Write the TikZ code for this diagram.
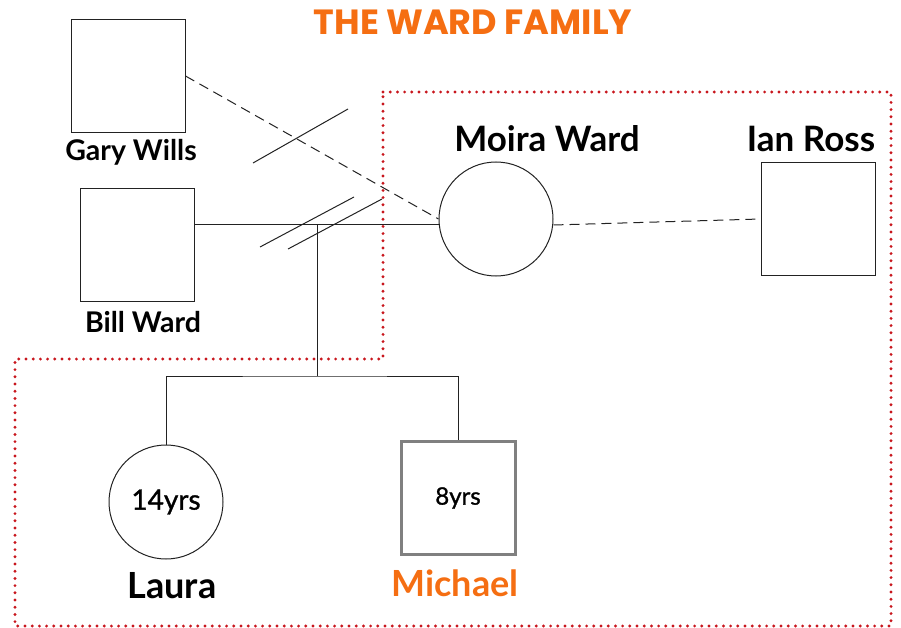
\documentclass[tikz,border=0pt]{standalone}
\usepackage{xcolor}
\usepackage{fontspec}
\setmainfont{Lato}
\newfontfamily\titlefont{Poppins}
\newfontfamily\agefont[FakeBold=1.2]{Lato}
\usepackage{tikz}
\usetikzlibrary{positioning,calc}
\definecolor{wardorange}{HTML}{F56E12}
\definecolor{dotred}{HTML}{C8161D}
\definecolor{boxgrey}{HTML}{808080}
\definecolor{ink}{HTML}{222222}

\begin{document}
\begin{tikzpicture}[x=1pt, y=-1pt, line width=1pt, draw=ink,
    male/.style={draw=ink, rectangle, minimum width=114pt, minimum height=113pt, inner sep=0pt},
    female/.style={draw=ink, circle, minimum size=114pt, inner sep=0pt},
    small/.style={font=\bfseries\fontsize{28.5}{28.5}\selectfont},
    big/.style={font=\bfseries\fontsize{#1}{#1}\selectfont},
    age/.style={font=\agefont\fontsize{#1}{#1}\selectfont},
    link/.style={dashed, dash pattern=on 10pt off 6pt},
    border/.style={dotred, line width=3.2pt, dash pattern=on 0pt off 7.2pt, line cap=round}]
    \useasboundingbox (0,0) rectangle (901,628);
    \draw[border] (383,92) -- (891,92) -- (891,626) -- (15,626) -- (15,359) -- (383,359) -- cycle;

    \node[font=\titlefont\bfseries\fontsize{35}{35}\selectfont, text=wardorange] (title) at (473,22) {THE WARD FAMILY};

    \node[male] (gary) at (128,76) {};
    \node[male] (bill) at (137,245) {};
    \node[female] (moira) at (496,219) {};
    \node[male] (ian) at (818,219) {};
    \node[female, age=28] (laura) at (166,502) {14yrs};
    \node[male, draw=boxgrey, line width=3pt, age=24] (michael) at (458,498) {8yrs};

    \node[small] (garyname) at (131,152) {Gary Wills};
    \node[small] (billname) at (143,322) {Bill Ward};
    \node[big=35] (moiraname) at (547,139) {Moira Ward};
    \node[big=35] (ianname) at (811,139) {Ian Ross};
    \node[big=36] (lauraname) at (172,586) {Laura};
    \node[big=36, text=wardorange] (michaelname) at (455,583) {Michael};

    \coordinate (marr) at (317,225);
    \coordinate (sib) at (317,376);

    \draw[link] (gary.east) -- (moira.west);
    \draw (bill.east |- marr) -- (moira.west |- marr);
    \draw[link] (moira.east |- marr) -- (ian.west);
    \draw (marr) -- (sib);
    \draw (laura.north) |- (sib) -| (michael.north);

    \draw (253,163) -- (348,109);
    \foreach \dx/\dy in {0/0, 28/2} {
        \draw (260+\dx, 247+\dy) -- (344+\dx+10, 198+\dy-1);
    }
\end{tikzpicture}
\end{document}
